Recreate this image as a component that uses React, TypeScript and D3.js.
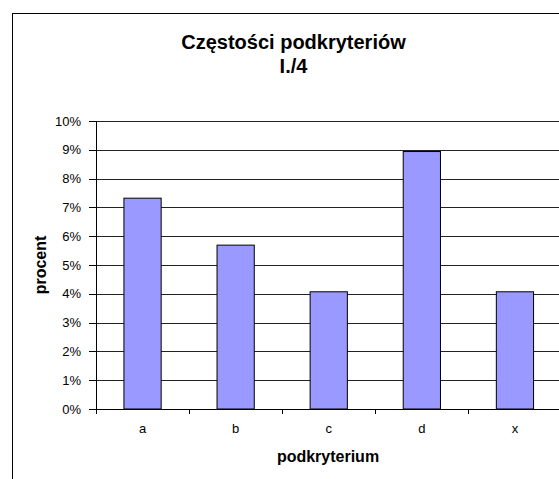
import React from "react";
import * as d3 from "d3";

const categories = ["a", "b", "c", "d", "x"];
const values = [0.0732, 0.0569, 0.0407, 0.0894, 0.0407];
const yTicks = [0, 0.01, 0.02, 0.03, 0.04, 0.05, 0.06, 0.07, 0.08, 0.09, 0.1];
const titleLines = ["Częstości podkryteriów", "I./4"];
const xTitle = "podkryterium";
const yTitle = "procent";

export default function App() {
  const W = 559, H = 479;
  const left = 96, right = 561.5, top = 121, bottom = 409;
  const x = d3.scaleBand<string>().domain(categories).range([left, right]).paddingInner(0.6).paddingOuter(0.3);
  const y = d3.scaleLinear().domain([0, 0.1]).range([bottom, top]);
  const step = (right - left) / categories.length;
  const fmt = d3.format(".0%");
  const font = "'Liberation Sans', Arial, sans-serif";
  const boundaries = d3.range(categories.length + 1).map((i) => left + i * step);
  return (
    <svg width={W} height={H} style={{ position: "absolute", left: 0, top: 0 }} fontFamily={font}>
      <rect x={0} y={0} width={W} height={H} fill="#fff" />
      <rect x={12.5} y={13.5} width={W + 20} height={H + 20} fill="#fff" stroke="#000" strokeWidth={1} />
      {yTicks.map((t) => (
        <line key={"g" + t} x1={left} x2={right} y1={Math.round(y(t)) + 0.5} y2={Math.round(y(t)) + 0.5} stroke="#222" strokeWidth={1} />
      ))}
      {categories.map((c, i) => (
        <rect key={c} x={x(c)!} y={y(values[i])} width={x.bandwidth()} height={bottom - y(values[i])} fill="#9999FF" stroke="#000" strokeWidth={1} />
      ))}
      <line x1={left + 0.5} x2={left + 0.5} y1={top} y2={bottom + 5} stroke="#000" />
      <line x1={left} x2={right} y1={bottom + 0.5} y2={bottom + 0.5} stroke="#000" />
      {yTicks.map((t) => (
        <g key={"t" + t}>
          <line x1={left - 7} x2={left} y1={Math.round(y(t)) + 0.5} y2={Math.round(y(t)) + 0.5} stroke="#000" />
          <text x={left - 15} y={y(t)} dy="0.36em" textAnchor="end" fontSize={13}>{fmt(t)}</text>
        </g>
      ))}
      {boundaries.map((b, i) => (
        <line key={"xb" + i} x1={Math.round(b) + 0.5} x2={Math.round(b) + 0.5} y1={bottom} y2={bottom + 5} stroke="#000" />
      ))}
      {categories.map((c) => (
        <text key={"l" + c} x={x(c)! + x.bandwidth() / 2} y={433} textAnchor="middle" fontSize={13}>{c}</text>
      ))}
      <text x={293.5} y={49} textAnchor="middle" fontSize={20} fontWeight="bold">{titleLines[0]}</text>
      <text x={293.5} y={73} textAnchor="middle" fontSize={20} fontWeight="bold">{titleLines[1]}</text>
      <text x={328} y={462} textAnchor="middle" fontSize={16} fontWeight="bold">{xTitle}</text>
      <text transform={`translate(46,${(top + bottom) / 2}) rotate(-90)`} textAnchor="middle" fontSize={16} fontWeight="bold">{yTitle}</text>
    </svg>
  );
}
